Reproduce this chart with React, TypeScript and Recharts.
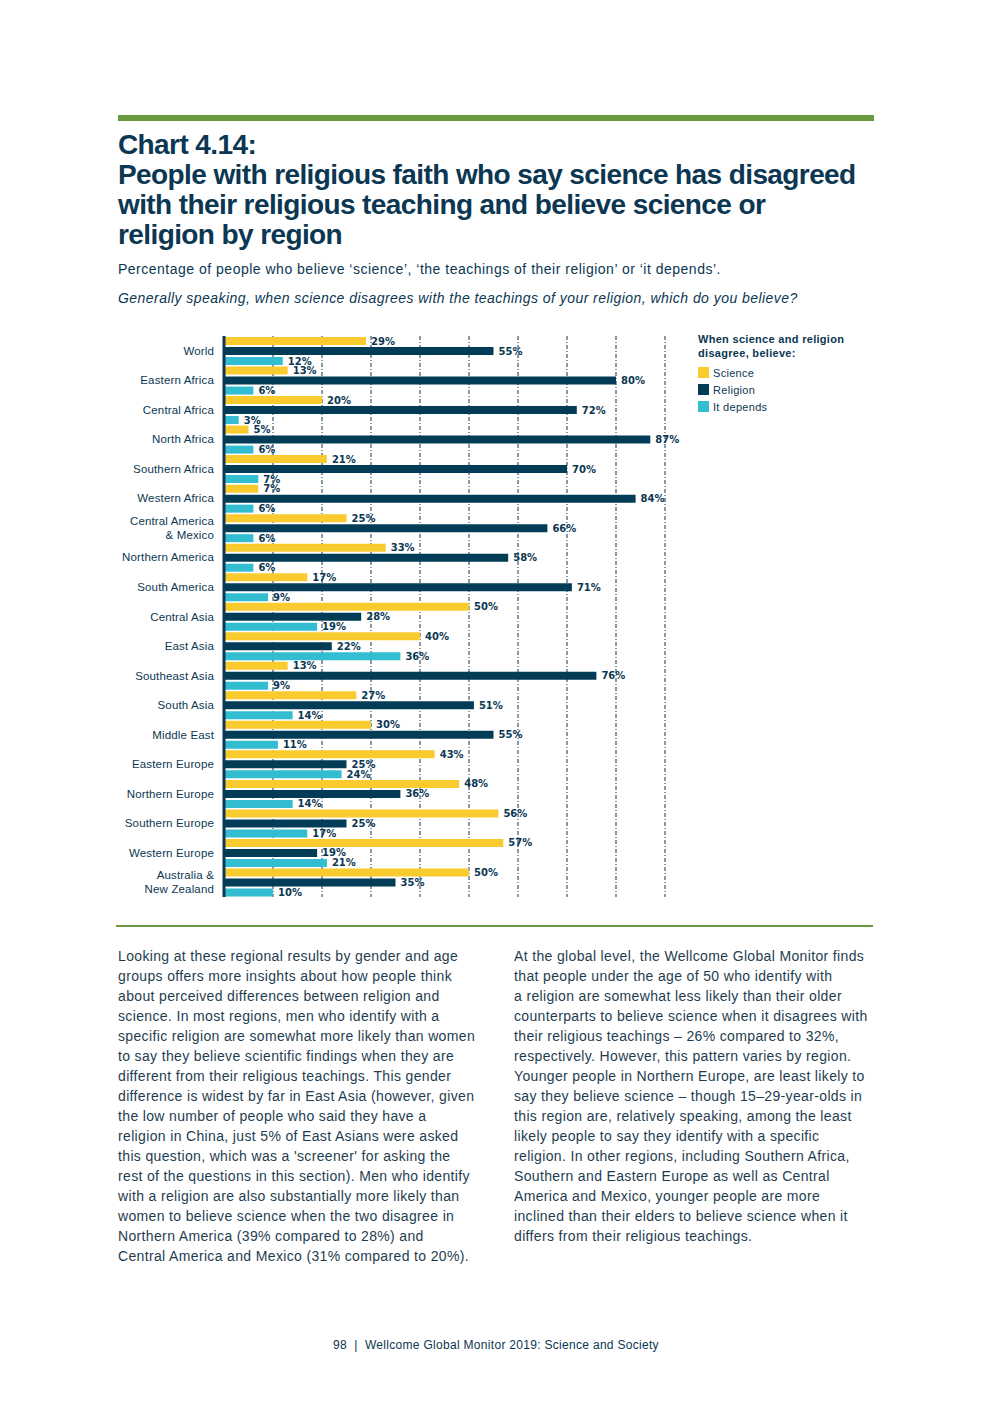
import { Bar, BarChart, CartesianGrid, LabelList, XAxis, YAxis } from "recharts";

// Chart 4.14 – believe science / religion / it depends, by region (%)
const REGIONS = [
  "World",
  "Eastern Africa",
  "Central Africa",
  "North Africa",
  "Southern Africa",
  "Western Africa",
  "Central America\n& Mexico",
  "Northern America",
  "South America",
  "Central Asia",
  "East Asia",
  "Southeast Asia",
  "South Asia",
  "Middle East",
  "Eastern Europe",
  "Northern Europe",
  "Southern Europe",
  "Western Europe",
  "Australia &\nNew Zealand",
];
const SCIENCE = [29, 13, 20, 5, 21, 7, 25, 33, 17, 50, 40, 13, 27, 30, 43, 48, 56, 57, 50];
const RELIGION = [55, 80, 72, 87, 70, 84, 66, 58, 71, 28, 22, 76, 51, 55, 25, 36, 25, 19, 35];
const DEPENDS = [12, 6, 3, 6, 7, 6, 6, 6, 9, 19, 36, 9, 14, 11, 24, 14, 17, 21, 10];
const GRID_TICKS = [10, 20, 30, 40, 50, 60, 70, 80, 90];

const INK = "#0b3752";
const TEXT = "#1f3d50";
const GREEN = "#6a983c";
const SANS = "'Liberation Sans', Arial, sans-serif";

const SERIES = [
  { key: "science", name: "Science", colour: "#f9cb2f", values: SCIENCE },
  { key: "religion", name: "Religion", colour: "#033c57", values: RELIGION },
  { key: "depends", name: "It depends", colour: "#32bdd1", values: DEPENDS },
];

const rows = REGIONS.map((region, i) => {
  const row: Record<string, string | number> = { region };
  for (const s of SERIES) row[s.key] = s.values[i];
  return row;
});

const LEFT_TEXT = [
  "Looking at these regional results by gender and age",
  "groups offers more insights about how people think",
  "about perceived differences between religion and",
  "science. In most regions, men who identify with a",
  "specific religion are somewhat more likely than women",
  "to say they believe scientific findings when they are",
  "different from their religious teachings. This gender",
  "difference is widest by far in East Asia (however, given",
  "the low number of people who said they have a",
  "religion in China, just 5% of East Asians were asked",
  "this question, which was a 'screener' for asking the",
  "rest of the questions in this section). Men who identify",
  "with a religion are also substantially more likely than",
  "women to believe science when the two disagree in",
  "Northern America (39% compared to 28%) and",
  "Central America and Mexico (31% compared to 20%).",
];

const RIGHT_TEXT = [
  "At the global level, the Wellcome Global Monitor finds",
  "that people under the age of 50 who identify with",
  "a religion are somewhat less likely than their older",
  "counterparts to believe science when it disagrees with",
  "their religious teachings – 26% compared to 32%,",
  "respectively. However, this pattern varies by region.",
  "Younger people in Northern Europe, are least likely to",
  "say they believe science – though 15–29-year-olds in",
  "this region are, relatively speaking, among the least",
  "likely people to say they identify with a specific",
  "religion. In other regions, including Southern Africa,",
  "Southern and Eastern Europe as well as Central",
  "America and Mexico, younger people are more",
  "inclined than their elders to believe science when it",
  "differs from their religious teachings.",
];

function RegionTick({ x, y, payload }: any) {
  const lines = String(payload.value).split("\n");
  const start = -((lines.length - 1) * 14) / 2 + 4;
  return (
    <text x={x} y={y} textAnchor="end" fill={INK} fontSize={11.5} letterSpacing={0.15} fontFamily={SANS}>
      {lines.map((l, i) => (
        <tspan key={i} x={x} dy={i === 0 ? start : 14}>
          {l}
        </tspan>
      ))}
    </text>
  );
}

// grid only at 10..90, placed with the x axis' own scale
function gridXs({ xAxis, offset }: any): number[] {
  if (xAxis && typeof xAxis.scale === "function") {
    return GRID_TICKS.map((t) => xAxis.scale(t));
  }
  return GRID_TICKS.map((t) => offset.left + (t / 100) * offset.width);
}

function Column({ lines, left }: { lines: string[]; left: number }) {
  return (
    <div
      style={{
        position: "absolute",
        left,
        top: 946,
        fontFamily: SANS,
        fontSize: 14,
        lineHeight: "20px",
        letterSpacing: 0.35,
        color: TEXT,
        whiteSpace: "nowrap",
      }}
    >
      {lines.map((l, i) => (
        <div key={i}>{l}</div>
      ))}
    </div>
  );
}

export default function App() {
  return (
    <div
      style={{
        position: "absolute",
        left: 0,
        top: 0,
        width: 992,
        height: 1403,
        background: "#fff",
        overflow: "hidden",
      }}
    >
      <div style={{ position: "absolute", left: 118, top: 115, width: 756, height: 6, background: GREEN }} />
      <div
        style={{
          position: "absolute",
          left: 118,
          top: 130,
          fontFamily: SANS,
          fontWeight: "bold",
          fontSize: 28,
          lineHeight: "30px",
          letterSpacing: -0.6,
          color: INK,
          whiteSpace: "nowrap",
        }}
      >
        <div>Chart 4.14:</div>
        <div>People with religious faith who say science has disagreed</div>
        <div>with their religious teaching and believe science or</div>
        <div>religion by region</div>
      </div>
      <div
        style={{
          position: "absolute",
          left: 118,
          top: 261,
          fontFamily: SANS,
          fontSize: 14,
          letterSpacing: 0.5,
          color: INK,
          whiteSpace: "nowrap",
        }}
      >
        Percentage of people who believe ‘science’, ‘the teachings of their religion’ or ‘it depends’.
      </div>
      <div
        style={{
          position: "absolute",
          left: 118,
          top: 290,
          fontFamily: SANS,
          fontSize: 14,
          fontStyle: "italic",
          letterSpacing: 0.45,
          color: INK,
          whiteSpace: "nowrap",
        }}
      >
        Generally speaking, when science disagrees with the teachings of your religion, which do you believe?
      </div>

      <div style={{ position: "absolute", left: 100, top: 330 }}>
        <BarChart
          width={620}
          height={573}
          data={rows}
          layout="vertical"
          margin={{ top: 6, right: 6, bottom: 6, left: 0 }}
          barSize={8}
          barGap={2}
        >
          <CartesianGrid
            vertical
            horizontal={false}
            verticalCoordinatesGenerator={gridXs}
            stroke={INK}
            strokeDasharray="4 2 1 2"
            strokeWidth={1}
          />
          <XAxis
            type="number"
            domain={[0, 100]}
            ticks={GRID_TICKS}
            height={0}
            tick={false}
            axisLine={false}
            tickLine={false}
          />
          <YAxis
            type="category"
            dataKey="region"
            width={124}
            tickLine={false}
            tickSize={0}
            tickMargin={10}
            axisLine={{ stroke: INK, strokeWidth: 3 }}
            tick={<RegionTick />}
            interval={0}
          />
          {SERIES.map((s) => (
            <Bar key={s.key} dataKey={s.key} name={s.name} fill={s.colour} isAnimationActive={false}>
              <LabelList
                dataKey={s.key}
                position="right"
                offset={5}
                formatter={(v: any) => `${v}%`}
                fill={INK}
                fontSize={10}
                fontWeight="bold"
                fontFamily="'DejaVu Sans', sans-serif"
              />
            </Bar>
          ))}
        </BarChart>
      </div>

      <div style={{ position: "absolute", left: 698, top: 332, fontFamily: SANS, color: INK, letterSpacing: 0.3 }}>
        <div style={{ fontSize: 11, fontWeight: "bold", lineHeight: "14px" }}>
          When science and religion
          <br />
          disagree, believe:
        </div>
        <div style={{ marginTop: 4 }}>
          {SERIES.map((s) => (
            <div key={s.key} style={{ display: "flex", alignItems: "center", height: 17, fontSize: 11 }}>
              <span style={{ display: "inline-block", width: 11, height: 11, background: s.colour, marginRight: 4 }} />
              {s.name}
            </div>
          ))}
        </div>
      </div>

      <div style={{ position: "absolute", left: 116, top: 925, width: 757, height: 2, background: GREEN }} />

      <Column lines={LEFT_TEXT} left={118} />
      <Column lines={RIGHT_TEXT} left={514} />

      <div
        style={{
          position: "absolute",
          left: 0,
          width: 992,
          top: 1338,
          textAlign: "center",
          fontFamily: SANS,
          fontSize: 12,
          letterSpacing: 0.3,
          color: INK,
        }}
      >
        98 &nbsp;|&nbsp; Wellcome Global Monitor 2019: Science and Society
      </div>
    </div>
  );
}
